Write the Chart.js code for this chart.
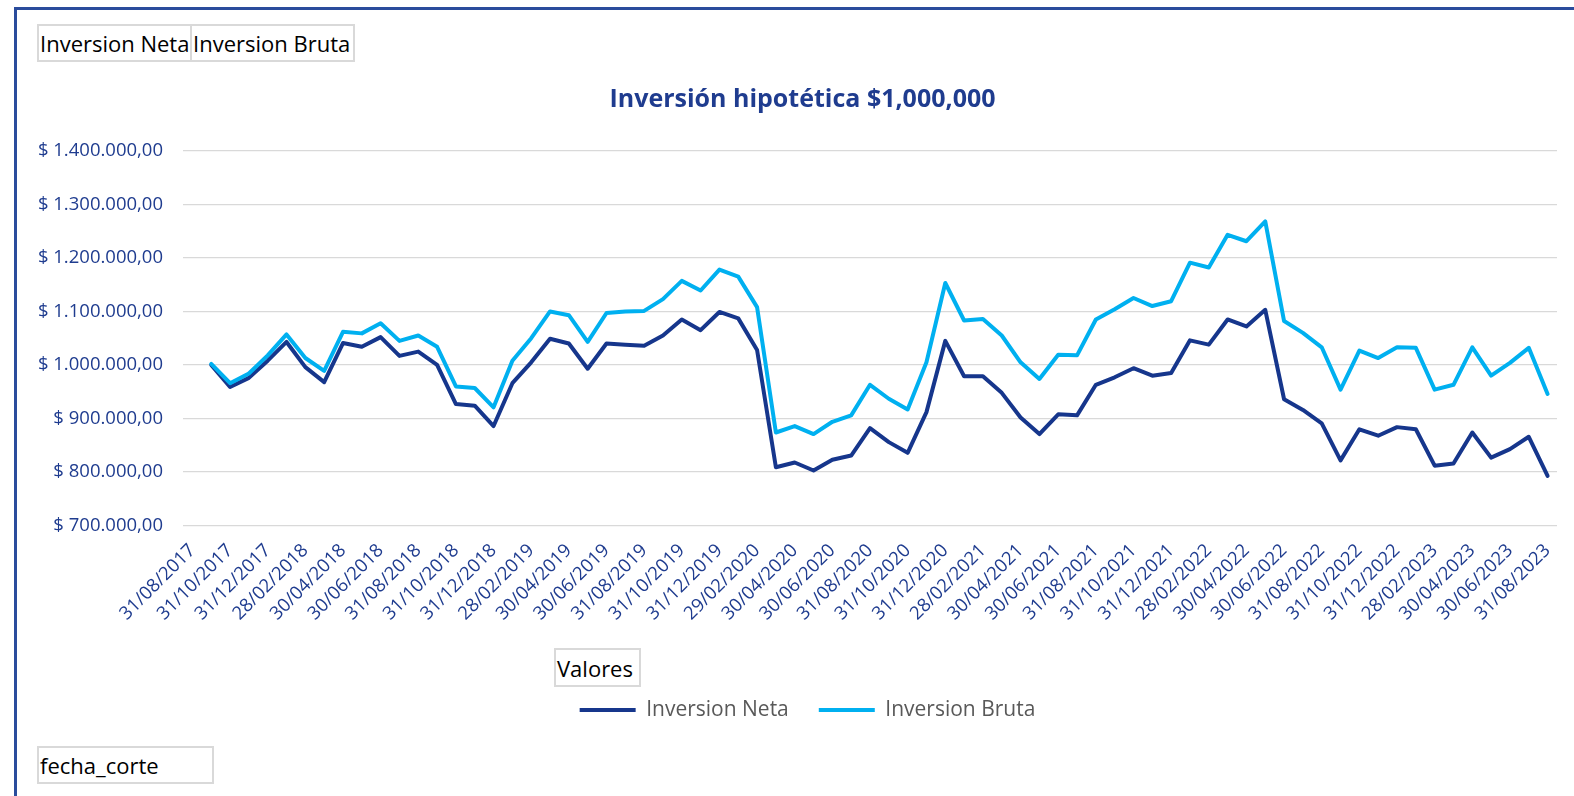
<!DOCTYPE html>
<html>
<head>
<meta charset="utf-8">
<script src="https://cdn.jsdelivr.net/npm/chart.js@4.4.1/dist/chart.umd.min.js"></script>
<style>
  body { margin: 0; background: #fff; overflow: hidden; font-family: "Open Sans", sans-serif; }
  #frame { position: absolute; left: 14px; top: 7px; width: 1640px; height: 900px; border: 3px solid #2a4c9c; }
  canvas { position: absolute; left: 0; top: 0; }
  .field { position: absolute; box-sizing: border-box; border: 2px solid #d9d9d9; font-size: 22px; color: #000; line-height: 1; padding-left: 1px; display: flex; align-items: center; white-space: nowrap; background: #fff; }
</style>
</head>
<body>
<div id="frame"></div>
<canvas id="chart" width="1574" height="796"></canvas>
<div class="field" style="left:37px;top:24px;width:155px;height:38px;">Inversion Neta</div>
<div class="field" style="left:190px;top:24px;width:165px;height:38px;">Inversion Bruta</div>
<div class="field" style="left:554px;top:648px;width:87px;height:39px;">Valores</div>
<div class="field" style="left:37px;top:746px;width:177px;height:38px;">fecha_corte</div>
<script>
const fechas = [
  "31/08/2017", "30/09/2017", "31/10/2017", "30/11/2017", "31/12/2017",
  "31/01/2018", "28/02/2018", "31/03/2018", "30/04/2018", "31/05/2018", "30/06/2018",
  "31/07/2018", "31/08/2018", "30/09/2018", "31/10/2018", "30/11/2018", "31/12/2018",
  "31/01/2019", "28/02/2019", "31/03/2019", "30/04/2019", "31/05/2019", "30/06/2019",
  "31/07/2019", "31/08/2019", "30/09/2019", "31/10/2019", "30/11/2019", "31/12/2019",
  "31/01/2020", "29/02/2020", "31/03/2020", "30/04/2020", "31/05/2020", "30/06/2020",
  "31/07/2020", "31/08/2020", "30/09/2020", "31/10/2020", "30/11/2020", "31/12/2020",
  "31/01/2021", "28/02/2021", "31/03/2021", "30/04/2021", "31/05/2021", "30/06/2021",
  "31/07/2021", "31/08/2021", "30/09/2021", "31/10/2021", "30/11/2021", "31/12/2021",
  "31/01/2022", "28/02/2022", "31/03/2022", "30/04/2022", "31/05/2022", "30/06/2022",
  "31/07/2022", "31/08/2022", "30/09/2022", "31/10/2022", "30/11/2022", "31/12/2022",
  "31/01/2023", "28/02/2023", "31/03/2023", "30/04/2023", "31/05/2023", "30/06/2023",
  "31/07/2023", "31/08/2023"
];

const inversionNeta = [
  null, 1000000, 959000, 976000, 1008000, 1043000, 996000, 968000, 1041000, 1034000,
  1052000, 1017000, 1025000, 1000000, 927000, 924000, 886000, 966000, 1005000, 1049000,
  1040000, 993000, 1040000, 1038000, 1036000, 1055000, 1085000, 1065000, 1099000, 1087000,
  1028000, 809000, 818000, 803000, 823000, 831000, 882000, 856000, 836000, 912000,
  1045000, 979000, 979000, 948000, 902000, 871000, 908000, 906000, 963000, 977000,
  994000, 980000, 985000, 1046000, 1038000, 1085000, 1072000, 1103000, 936000, 916000,
  891000, 822000, 880000, 868000, 884000, 880000, 812000, 816000, 874000, 827000,
  843000, 866000, 793000
];

const inversionBruta = [
  null, 1002000, 966000, 984000, 1018000, 1057000, 1013000, 989000, 1062000, 1059000,
  1078000, 1045000, 1055000, 1034000, 960000, 957000, 921000, 1008000, 1050000, 1100000,
  1093000, 1043000, 1097000, 1100000, 1101000, 1123000, 1157000, 1139000, 1178000, 1165000,
  1108000, 874000, 886000, 871000, 894000, 906000, 963000, 937000, 917000, 1005000,
  1153000, 1083000, 1086000, 1055000, 1005000, 974000, 1019000, 1018000, 1085000, 1104000,
  1125000, 1110000, 1119000, 1191000, 1182000, 1243000, 1231000, 1268000, 1082000, 1060000,
  1033000, 954000, 1027000, 1013000, 1033000, 1032000, 954000, 963000, 1033000, 980000,
  1004000, 1032000, 946000
];

const yMin = 700000;
const yMax = 1400000;
const yStep = 100000;

const azul = "#1f3c8f";

function pesos(v) {
  const s = Math.round(v).toString().replace(/\B(?=(\d{3})+(?!\d))/g, ".");
  return "$ " + s + ",00";
}

// the Excel title and legend sit a bit right of the canvas centre
const nudge = {
  id: "nudge",
  afterLayout(chart) {
    chart.titleBlock.left += 10;
    chart.titleBlock.right += 10;
    chart.legend.left += 15;
    chart.legend.right += 15;
  }
};

new Chart(document.getElementById("chart"), {
  type: "line",
  data: {
    labels: fechas,
    datasets: [
      {
        label: "Inversion Neta",
        data: inversionNeta,
        borderColor: "#16368c",
        backgroundColor: "#16368c",
        borderWidth: 4,
        pointRadius: 0,
        borderCapStyle: "round",
        borderJoinStyle: "round",
        order: 1
      },
      {
        label: "Inversion Bruta",
        data: inversionBruta,
        borderColor: "#00b0f0",
        backgroundColor: "#00b0f0",
        borderWidth: 4,
        pointRadius: 0,
        borderCapStyle: "round",
        borderJoinStyle: "round",
        order: 0
      }
    ]
  },
  plugins: [nudge],
  options: {
    responsive: false,
    animation: false,
    layout: { padding: { left: 28, right: 17, top: 0, bottom: 65.5 } },
    plugins: {
      title: {
        display: true,
        text: "Inversión hipotética $1,000,000",
        color: azul,
        font: { family: "Open Sans", size: 25, weight: "bold" },
        padding: { top: 85, bottom: 35.7 }
      },
      legend: {
        position: "bottom",
        labels: {
          usePointStyle: true,
          pointStyle: "line",
          pointStyleWidth: 56,
          padding: 30,
          color: "#595959",
          font: { family: "Open Sans", size: 21 },
          sort: (a, b) => a.datasetIndex - b.datasetIndex
        }
      },
      tooltip: { enabled: false }
    },
    scales: {
      x: {
        offset: true,
        grid: { display: false, drawTicks: false },
        border: { display: false },
        ticks: {
          autoSkip: false,
          minRotation: 45,
          maxRotation: 45,
          padding: 14,
          color: azul,
          font: { family: "Open Sans", size: 18.5 },
          callback: (v, i) => (i % 2 === 0 ? fechas[i] : null)
        },
        afterFit: (scale) => {
          scale.height = 143.8;
          scale.paddingLeft = 0;
          scale.paddingRight = 0;
        }
      },
      y: {
        min: yMin,
        max: yMax,
        grid: { color: "#d9d9d9", lineWidth: 1.3, drawTicks: false },
        border: { display: false },
        ticks: {
          stepSize: yStep,
          padding: 20,
          color: azul,
          font: { family: "Open Sans", size: 18.5 },
          callback: (v) => pesos(v)
        },
        afterFit: (scale) => {
          scale.width = 155;
        }
      }
    }
  }
});
</script>
</body>
</html>
